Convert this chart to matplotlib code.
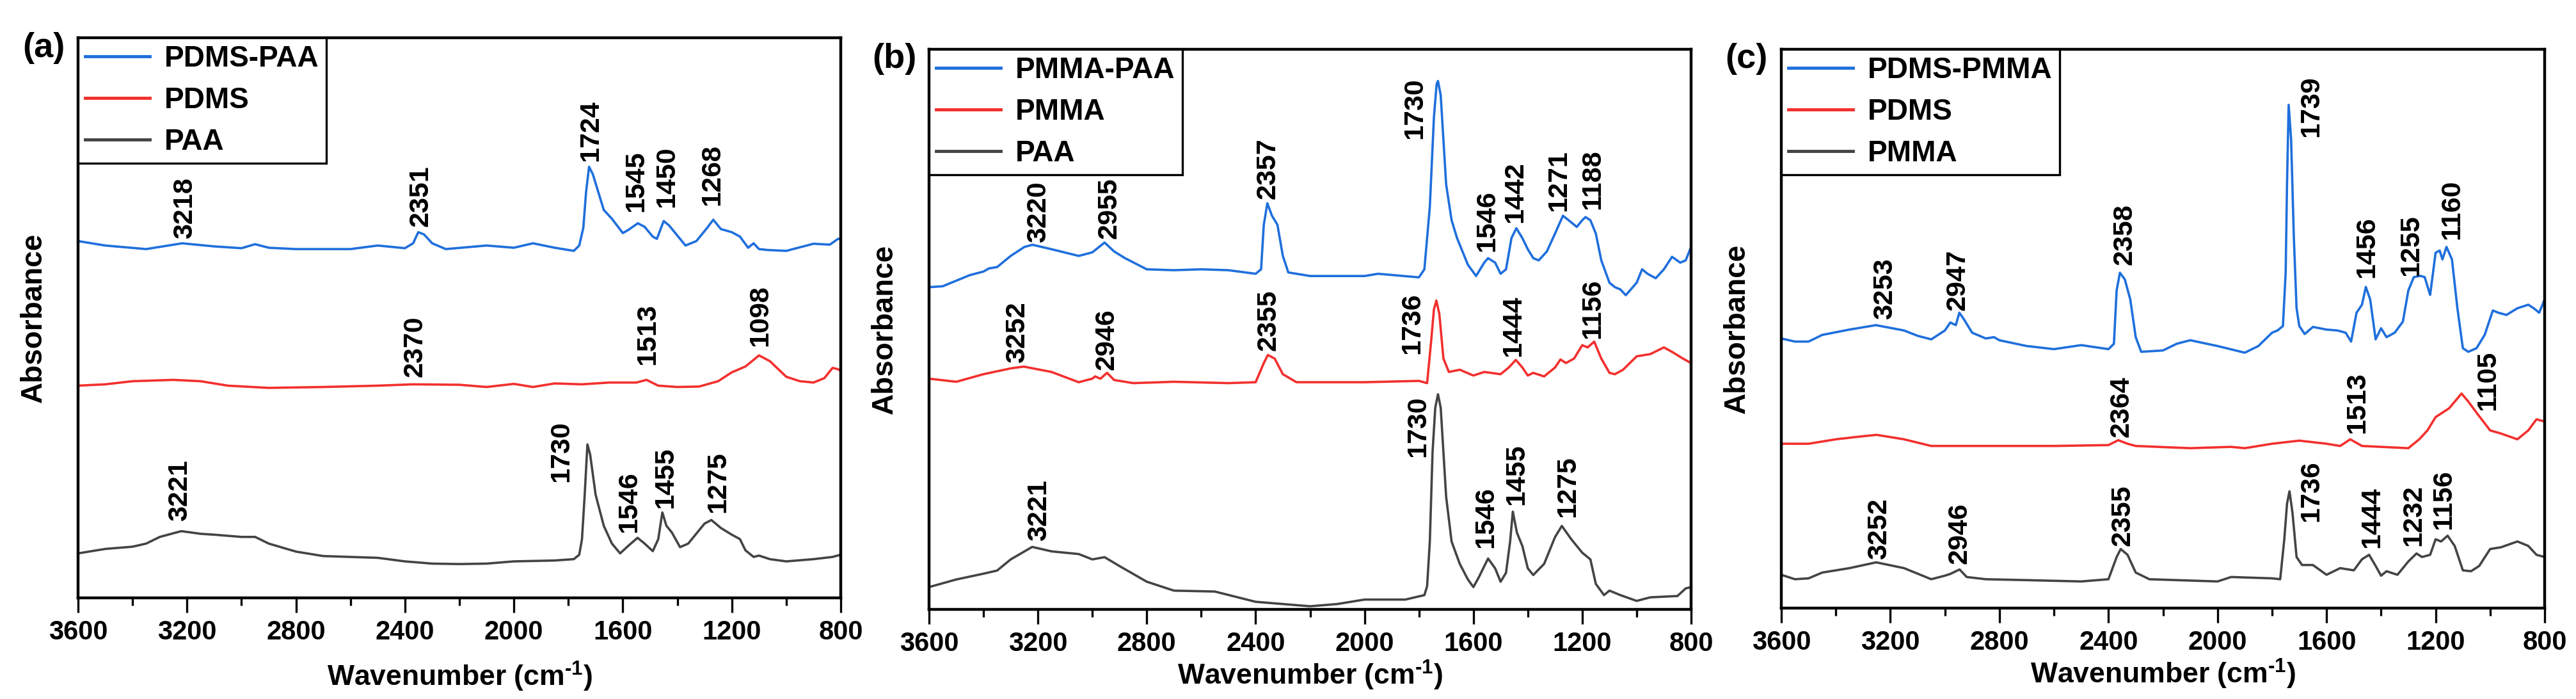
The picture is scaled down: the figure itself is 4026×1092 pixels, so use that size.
import numpy as np
import matplotlib
matplotlib.use("Agg")
import matplotlib.pyplot as plt
from matplotlib.ticker import MultipleLocator

# (wavenumber cm-1, absorbance a.u.), stacked with offsets as drawn
# panel (a)
a_pdms_paa = [(3600, 802), (3500, 792), (3350, 784), (3218, 797), (3100, 790), (3000, 786), (2950, 795),
              (2900, 787), (2800, 784), (2600, 784), (2500, 792), (2400, 786), (2370, 797), (2351, 822),
              (2330, 817), (2300, 797), (2250, 784), (2100, 792), (2000, 787), (1930, 797), (1850, 787),
              (1780, 780), (1760, 792), (1745, 832), (1735, 912), (1724, 969), (1710, 952), (1690, 912),
              (1670, 872), (1640, 852), (1600, 820), (1580, 827), (1545, 842), (1520, 834), (1490, 812),
              (1475, 807), (1450, 847), (1430, 837), (1410, 822), (1370, 792), (1330, 802), (1290, 832),
              (1268, 850), (1240, 829), (1200, 822), (1170, 812), (1140, 787), (1120, 797), (1100, 784),
              (1070, 782), (1000, 780), (900, 796), (840, 794), (810, 807), (800, 807)]
a_pdms = [(3600, 477), (3500, 480), (3400, 487), (3250, 490), (3150, 487), (3050, 477), (2900, 472),
          (2700, 474), (2500, 477), (2370, 480), (2200, 479), (2100, 474), (2000, 481), (1930, 474),
          (1850, 482), (1750, 480), (1650, 484), (1550, 484), (1513, 490), (1470, 477), (1400, 474),
          (1320, 475), (1250, 487), (1200, 507), (1150, 520), (1100, 545), (1060, 532), (1000, 497),
          (950, 487), (900, 484), (860, 494), (830, 517), (810, 514), (800, 510)]
a_paa = [(3600, 100), (3500, 110), (3400, 115), (3350, 122), (3300, 137), (3221, 150), (3150, 144),
         (3100, 142), (3000, 137), (2950, 137), (2900, 122), (2800, 104), (2700, 94), (2500, 90),
         (2400, 82), (2300, 77), (2200, 76), (2100, 77), (2000, 82), (1850, 84), (1780, 87), (1760, 97),
         (1750, 132), (1740, 232), (1730, 345), (1720, 322), (1700, 232), (1670, 162), (1640, 122),
         (1610, 100), (1580, 117), (1546, 135), (1520, 122), (1490, 105), (1470, 132), (1455, 192),
         (1440, 162), (1420, 147), (1390, 114), (1360, 122), (1300, 167), (1275, 175), (1240, 157),
         (1200, 142), (1170, 132), (1150, 107), (1120, 92), (1100, 95), (1060, 87), (1000, 82),
         (900, 87), (830, 92), (800, 97)]

# panel (b)
b_pmma_paa = [(3600, 722), (3550, 724), (3450, 749), (3400, 757), (3380, 764), (3350, 767), (3300, 792),
              (3250, 812), (3220, 817), (3150, 807), (3050, 792), (3000, 800), (2955, 822), (2920, 802),
              (2880, 787), (2800, 762), (2700, 760), (2600, 762), (2500, 760), (2400, 752), (2380, 762),
              (2370, 862), (2357, 910), (2340, 882), (2320, 862), (2300, 792), (2280, 755), (2200, 747),
              (2000, 747), (1950, 752), (1800, 744), (1780, 762), (1760, 902), (1745, 1102), (1735, 1177),
              (1730, 1184), (1720, 1152), (1710, 1052), (1700, 952), (1680, 872), (1660, 832), (1640, 802),
              (1620, 772), (1590, 747), (1560, 777), (1546, 787), (1520, 777), (1500, 752), (1480, 762),
              (1460, 832), (1442, 854), (1420, 832), (1400, 807), (1380, 787), (1360, 782), (1330, 802),
              (1300, 842), (1271, 882), (1250, 872), (1220, 857), (1200, 872), (1188, 879), (1170, 872),
              (1150, 842), (1130, 782), (1100, 732), (1080, 722), (1060, 717), (1040, 704), (1000, 732),
              (980, 762), (960, 752), (930, 742), (900, 762), (870, 790), (840, 777), (820, 782), (800, 812)]
b_pmma = [(3600, 517), (3500, 510), (3400, 527), (3300, 540), (3252, 544), (3150, 532), (3050, 509),
          (3000, 517), (2990, 522), (2970, 517), (2946, 530), (2920, 514), (2850, 507), (2700, 510),
          (2500, 507), (2400, 509), (2370, 552), (2355, 570), (2330, 562), (2300, 527), (2250, 509),
          (2000, 509), (1800, 512), (1770, 507), (1755, 602), (1745, 672), (1736, 692), (1725, 662),
          (1710, 562), (1690, 532), (1650, 537), (1600, 524), (1560, 532), (1500, 527), (1470, 542),
          (1444, 559), (1420, 542), (1400, 524), (1380, 530), (1340, 522), (1300, 542), (1280, 560),
          (1260, 552), (1230, 562), (1200, 592), (1180, 587), (1156, 600), (1130, 562), (1100, 530),
          (1080, 527), (1050, 537), (1000, 567), (950, 572), (900, 587), (870, 577), (830, 562), (800, 552)]
b_paa = [(3600, 50), (3500, 67), (3400, 80), (3350, 87), (3300, 112), (3221, 140), (3150, 130),
         (3050, 124), (3000, 112), (2955, 117), (2900, 97), (2800, 62), (2700, 42), (2550, 40),
         (2400, 17), (2300, 12), (2200, 7), (2100, 12), (2000, 22), (1850, 22), (1780, 32), (1770, 52),
         (1760, 152), (1750, 352), (1740, 452), (1730, 482), (1720, 452), (1710, 352), (1700, 252),
         (1680, 152), (1650, 102), (1620, 67), (1600, 50), (1580, 72), (1546, 114), (1520, 92),
         (1500, 62), (1480, 82), (1465, 152), (1455, 219), (1440, 172), (1420, 142), (1400, 92),
         (1380, 77), (1340, 102), (1300, 162), (1275, 187), (1240, 157), (1200, 127), (1170, 112),
         (1150, 57), (1120, 32), (1100, 42), (1060, 32), (1000, 19), (950, 27), (850, 30), (820, 47),
         (800, 50)]

# panel (c)
c_pdms_pmma = [(3600, 607), (3550, 600), (3500, 600), (3450, 615), (3350, 627), (3253, 637), (3150, 625),
               (3100, 613), (3050, 605), (3000, 625), (2980, 643), (2960, 637), (2947, 665), (2930, 650),
               (2900, 620), (2850, 607), (2820, 610), (2800, 603), (2700, 590), (2600, 583), (2500, 592),
               (2400, 583), (2380, 595), (2370, 715), (2358, 755), (2340, 740), (2320, 695), (2300, 610),
               (2280, 577), (2200, 580), (2150, 595), (2100, 603), (2000, 590), (1900, 575), (1850, 590),
               (1800, 620), (1780, 625), (1760, 635), (1750, 755), (1745, 955), (1739, 1133), (1730, 1055),
               (1720, 835), (1710, 675), (1700, 635), (1680, 617), (1650, 633), (1600, 627), (1560, 625),
               (1530, 620), (1510, 600), (1490, 665), (1470, 683), (1456, 723), (1440, 695), (1420, 605),
               (1400, 630), (1380, 610), (1350, 620), (1320, 645), (1300, 715), (1280, 745), (1255, 748),
               (1240, 745), (1220, 705), (1200, 800), (1185, 805), (1175, 785), (1160, 813), (1140, 785),
               (1120, 675), (1100, 585), (1080, 577), (1050, 585), (1020, 615), (990, 670), (970, 665),
               (940, 660), (900, 675), (860, 683), (840, 675), (820, 665), (800, 695)]
c_pdms = [(3600, 370), (3500, 370), (3400, 380), (3300, 387), (3250, 390), (3150, 380), (3050, 365),
          (2950, 365), (2800, 365), (2600, 365), (2400, 367), (2364, 378), (2330, 370), (2300, 365),
          (2100, 360), (1950, 363), (1900, 360), (1800, 370), (1700, 377), (1600, 370), (1550, 365),
          (1513, 380), (1470, 365), (1400, 363), (1300, 360), (1260, 380), (1230, 400), (1200, 430),
          (1150, 450), (1105, 483), (1080, 465), (1050, 440), (1000, 400), (960, 393), (900, 380),
          (860, 400), (830, 425), (800, 420)]
c_pmma = [(3600, 75), (3550, 65), (3500, 67), (3450, 80), (3350, 90), (3252, 103), (3150, 90),
          (3050, 65), (3000, 73), (2980, 77), (2946, 87), (2920, 70), (2850, 65), (2700, 63), (2500, 60),
          (2400, 65), (2370, 115), (2355, 133), (2330, 120), (2300, 80), (2250, 65), (2000, 60),
          (1950, 70), (1800, 67), (1770, 65), (1755, 155), (1745, 235), (1736, 263), (1725, 215),
          (1710, 115), (1690, 97), (1650, 97), (1600, 75), (1550, 90), (1500, 85), (1470, 110),
          (1444, 120), (1420, 95), (1400, 73), (1380, 83), (1340, 75), (1300, 105), (1270, 123),
          (1250, 115), (1220, 120), (1200, 155), (1180, 150), (1156, 163), (1130, 140), (1100, 85),
          (1070, 83), (1040, 95), (1000, 133), (960, 137), (900, 150), (860, 140), (830, 120), (800, 115)]

# peak labels: (text, x position, y of label base)
a_peaks = [("3218", 3208, 807), ("2351", 2343, 835), ("1724", 1719, 982), ("1545", 1552, 867),
           ("1450", 1438, 877), ("1268", 1271, 882), ("2370", 2363, 497), ("1513", 1508, 524),
           ("1098", 1096, 566), ("3221", 3226, 172), ("1730", 1826, 260), ("1546", 1578, 147),
           ("1455", 1442, 202), ("1275", 1251, 192)]
b_peaks = [("3220", 3199, 822), ("2955", 2938, 830), ("2357", 2356, 920), ("1730", 1814, 1054),
           ("1546", 1549, 802), ("1442", 1446, 867), ("1271", 1286, 892), ("1188", 1161, 897),
           ("3252", 3275, 552), ("2946", 2948, 537), ("2355", 2352, 580), ("1736", 1824, 572),
           ("1444", 1452, 567), ("1156", 1161, 607), ("3221", 3195, 154), ("1730", 1804, 342),
           ("1546", 1553, 137), ("1455", 1442, 234), ("1275", 1252, 207)]
c_peaks = [("3253", 3220, 650), ("2947", 2954, 670), ("2358", 2341, 772), ("1739", 1655, 1060),
           ("1456", 1453, 743), ("1255", 1291, 748), ("1160", 1139, 830), ("2364", 2352, 385),
           ("1513", 1487, 393), ("1105", 1008, 445), ("3252", 3240, 110), ("2946", 2947, 100),
           ("2355", 2348, 140), ("1736", 1655, 195), ("1444", 1432, 135), ("1232", 1281, 140),
           ("1156", 1170, 177)]

a_names = ["PDMS-PAA", "PDMS", "PAA"]
b_names = ["PMMA-PAA", "PMMA", "PAA"]
c_names = ["PDMS-PMMA", "PDMS", "PMMA"]

colors = ["#1f6fdc", "#f2302e", "#444444"]

plt.rcParams["font.family"] = ["Liberation Sans", "DejaVu Sans"]
plt.rcParams["font.weight"] = "bold"
plt.rcParams["mathtext.fontset"] = "custom"
plt.rcParams["mathtext.rm"] = "Liberation Sans:bold"
plt.rcParams["mathtext.bf"] = "Liberation Sans:bold"

fs_tick, fs_leg, fs_xlab, fs_panel = 30, 33, 32, 39
fs_ylab, fs_peak = 33, 31

W, H = 4026, 1092
fig = plt.figure(figsize=(W / 100, H / 100), dpi=100)

# axes boxes in pixels: left, top, right, bottom
boxes = [(122, 59, 1314, 934), (1452, 77, 2643, 952), (2784, 77, 3977, 950)]
ytops = [1259, 1255, 1258]
xlab_y = [-0.14, -0.118, -0.118]
panel_pos = [(68, 75, "(a)"), (1398, 92, "(b)"), (2729, 92, "(c)")]

panels = [([a_pdms_paa, a_pdms, a_paa], a_names, a_peaks),
          ([b_pmma_paa, b_pmma, b_paa], b_names, b_peaks),
          ([c_pdms_pmma, c_pdms, c_pmma], c_names, c_peaks)]

for i, (curves, names, peaks) in enumerate(panels):
    l, t, r, b = boxes[i]
    ax = fig.add_axes([l / W, 1 - b / H, (r - l) / W, (b - t) / H])
    for data, name, col in zip(curves, names, colors):
        arr = np.array(data)
        ax.plot(arr[:, 0], arr[:, 1], color=col, lw=2.6, label=name)
    for txt, x, y in peaks:
        ax.text(x, y, txt, rotation=90, ha="center", va="bottom", fontsize=fs_peak, fontweight="bold")
    ax.set_xlim(3600, 800)
    ax.set_ylim(0, ytops[i])
    ax.xaxis.set_major_locator(MultipleLocator(400))
    ax.xaxis.set_minor_locator(MultipleLocator(200))
    ax.set_yticks([])
    for sp in ax.spines.values():
        sp.set_linewidth(3.2)
    ax.tick_params(axis="x", which="major", direction="out", length=16.5, width=2.4, pad=8,
                   labelsize=fs_tick)
    ax.tick_params(axis="x", which="minor", direction="out", length=8.6, width=2.4)
    for lab in ax.get_xticklabels():
        lab.set_fontweight("bold")
    ax.set_xlabel("Wavenumber (cm$^{\\text{-1}}$)", fontsize=fs_xlab, fontweight="bold", va="center")
    ax.xaxis.set_label_coords(0.5, xlab_y[i])
    ax.set_ylabel("Absorbance", fontsize=fs_ylab, fontweight="bold", va="center")
    ax.yaxis.set_label_coords(-0.058, 0.5)
    leg = ax.legend(loc="upper left", borderaxespad=0, fancybox=False, framealpha=1,
                    edgecolor="black", handlelength=2.2, handletextpad=0.5, labelspacing=0.45,
                    borderpad=0.25, prop={"weight": "bold", "size": fs_leg})
    leg.get_frame().set_linewidth(2.4)
    for ln in leg.get_lines():
        ln.set_linewidth(3.5)
    px, py, ptxt = panel_pos[i]
    fig.text(px / W, 1 - py / H, ptxt, ha="center", va="center", fontsize=fs_panel, fontweight="bold")

fig.savefig("out.png", dpi=100, facecolor="white")
